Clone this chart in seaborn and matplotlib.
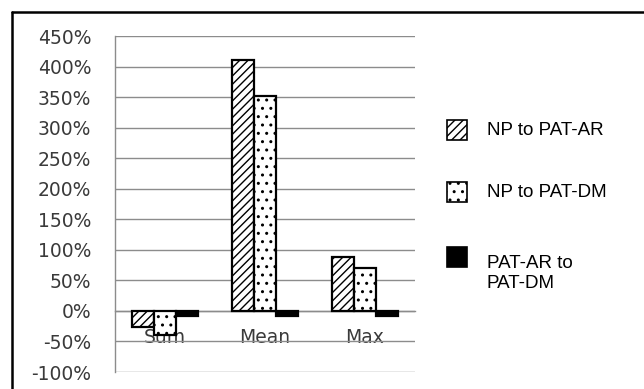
import numpy as np
import pandas as pd
import matplotlib
matplotlib.use("Agg")
import matplotlib.pyplot as plt
import seaborn as sns
from matplotlib.patches import Rectangle
from matplotlib.lines import Line2D
from matplotlib.ticker import PercentFormatter

categories = ["Sum", "Mean", "Max"]
series = ["NP to PAT-AR", "NP to PAT-DM", "PAT-AR to\nPAT-DM"]
np_to_ar = [-0.26, 4.10, 0.88]
np_to_dm = [-0.39, 3.51, 0.70]
ar_to_dm = [-0.09, -0.09, -0.09]
y_ticks = [-1.0, -0.5, 0.0, 0.5, 1.0, 1.5, 2.0, 2.5, 3.0, 3.5, 4.0, 4.5]

df = pd.DataFrame({
    "category": categories * 3,
    "series": [series[0]] * 3 + [series[1]] * 3 + [series[2]] * 3,
    "value": np_to_ar + np_to_dm + ar_to_dm,
})

sns.set_style("white")
plt.rcParams["hatch.linewidth"] = 1.0
plt.rcParams["axes.unicode_minus"] = False

W, H = 644, 389
fig = plt.figure(figsize=(W / 100, H / 100), dpi=100)
ax = fig.add_axes([115 / W, 1 - 372 / H, 300 / W, 336 / H])

sns.barplot(data=df, x="category", y="value", hue="series",
            order=categories, hue_order=series, width=0.66,
            palette=["white", "white", "black"], saturation=1,
            edgecolor="black", linewidth=1.6, legend=False, ax=ax, zorder=3)

hatches = ["////", "..", None]
for cont, h in zip(ax.containers, hatches):
    for bar in cont:
        if h:
            bar.set_hatch(h)

grid_c = "#8c8c8c"
ax.set_ylim(-1.0, 4.5)
ax.set_xlim(-0.5, 2.5)
ax.set_yticks(y_ticks)
ax.yaxis.set_major_formatter(PercentFormatter(1.0, decimals=0))
ax.yaxis.grid(True, color=grid_c, lw=1.0, zorder=0)
ax.set_axisbelow(True)
for s in ["top", "right"]:
    ax.spines[s].set_visible(False)
ax.spines["left"].set_color(grid_c)
ax.spines["left"].set_linewidth(1.0)
ax.spines["bottom"].set_position(("data", 0))
ax.spines["bottom"].set_color(grid_c)
ax.spines["bottom"].set_linewidth(1.0)
ax.spines["bottom"].set_zorder(1)

ax.set_xticks([-0.5, 0.5, 1.5, 2.5], labels=["", "", "", ""])
ax.set_xticks([0, 1, 2], labels=categories, minor=True)
ax.tick_params(axis="x", which="major", length=5, width=1, color=grid_c, direction="out")
ax.tick_params(axis="x", which="minor", length=0, pad=12, labelsize=13.5, labelcolor="#3a3a3a")
ax.tick_params(axis="y", length=7, width=1, color=grid_c, direction="out", pad=10,
               labelsize=13.5, labelcolor="#3a3a3a")
for lbl in ax.get_xticklabels(minor=True):
    lbl.set_zorder(2)
ax.set_xlabel("")
ax.set_ylabel("")

# outer frame (top and left edges visible)
fig.add_artist(Line2D([12 / W, 1.0], [1 - 12 / H, 1 - 12 / H], transform=fig.transFigure,
                      color="black", lw=1.8))
fig.add_artist(Line2D([12 / W, 12 / W], [0.0, 1 - 12 / H], transform=fig.transFigure,
                      color="black", lw=1.8))

# legend
leg_y = [120, 182, 247]
txt_base = [135, 197, 288]
for i, (name, h) in enumerate(zip(series, hatches)):
    fc = "black" if h is None else "white"
    r = Rectangle((447 / W, 1 - (leg_y[i] + 20) / H), 20 / W, 20 / H, transform=fig.transFigure,
                  facecolor=fc, edgecolor="black", lw=1.2, hatch=h)
    fig.add_artist(r)
    fig.text(487 / W, 1 - txt_base[i] / H, name, family="Liberation Sans", fontsize=13.5,
             va="baseline", ha="left", color="black", linespacing=1.2)

fig.savefig("out.png", dpi=100)
